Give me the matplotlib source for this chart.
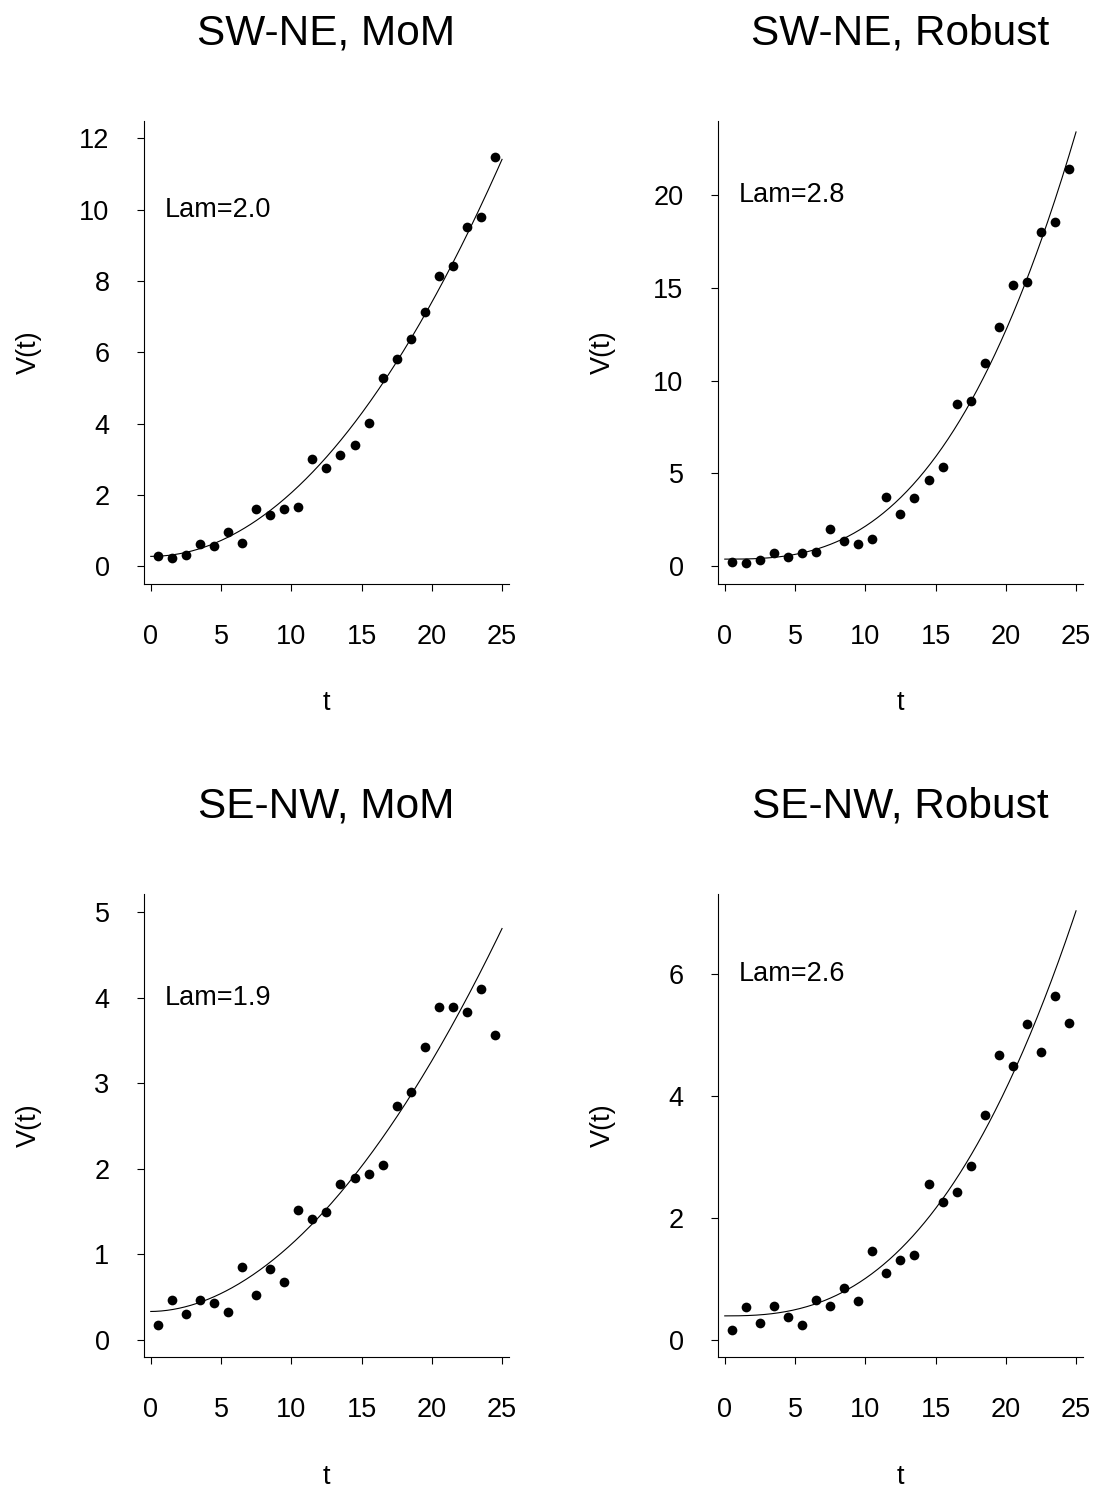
import numpy as np
import matplotlib
matplotlib.use('Agg')
import matplotlib.pyplot as plt

plt.rcParams['font.family'] = ['Liberation Sans', 'DejaVu Sans']

# time lags (bin centres)
t = [0.5 + i for i in range(25)]

# empirical variogram values
sw_ne_mom = [0.29, 0.23, 0.32, 0.63, 0.57, 0.96, 0.65, 1.61, 1.44, 1.61, 1.66, 3.01, 2.76,
             3.13, 3.40, 4.02, 5.28, 5.81, 6.37, 7.13, 8.14, 8.42, 9.51, 9.80, 11.46]
sw_ne_rob = [0.23, 0.18, 0.32, 0.72, 0.52, 0.72, 0.77, 2.03, 1.35, 1.20, 1.49, 3.73, 2.82,
             3.70, 4.65, 5.33, 8.74, 8.89, 10.95, 12.89, 15.15, 15.28, 18.01, 18.55, 21.40]
se_nw_mom = [0.17, 0.46, 0.30, 0.46, 0.43, 0.32, 0.85, 0.52, 0.83, 0.67, 1.52, 1.41, 1.49,
             1.82, 1.89, 1.94, 2.04, 2.73, 2.90, 3.42, 3.89, 3.89, 3.83, 4.10, 3.57]
se_nw_rob = [0.16, 0.53, 0.27, 0.56, 0.37, 0.24, 0.65, 0.55, 0.85, 0.64, 1.45, 1.10, 1.30,
             1.38, 2.56, 2.25, 2.42, 2.85, 3.69, 4.67, 4.49, 5.18, 4.72, 5.64, 5.19]

titles = ['SW-NE, MoM', 'SW-NE, Robust', 'SE-NW, MoM', 'SE-NW, Robust']
series = [sw_ne_mom, sw_ne_rob, se_nw_mom, se_nw_rob]

# fitted power model  V(t) = c0 + c1 * t^lam
lam = [2.0, 2.8, 1.9, 2.6]
c0 = [0.28, 0.39, 0.33, 0.39]
c1 = [0.0178, 0.00280, 0.00989, 0.00154]

y_max = [12, 20, 5, 6]
y_step = [2, 5, 1, 2]
y_top = [12.0, 23.04, 5.01, 7.02]
lam_y = [10, 20, 4, 6]

W, H = 1098, 1487
fig = plt.figure(figsize=(W / 100, H / 100), dpi=100)

# panel boxes in pixels: left, top
lefts = [144.3, 718.3]
tops = [121.0, 894.3]
pw, ph = 364.2, 462.5

tt = np.linspace(0, 25, 300)

for k in range(4):
    col, row = k % 2, k // 2
    ax = fig.add_axes([lefts[col] / W, 1 - (tops[row] + ph) / H, pw / W, ph / H])

    ax.plot(t, series[k], 'o', color='black', markersize=7, markeredgewidth=0)
    ax.plot(tt, c0[k] + c1[k] * tt ** lam[k], color='black', linewidth=0.8)

    ax.set_xlim(0.5 - 0.96, 24.5 + 0.96)
    ax.set_ylim(-0.04 * y_top[k], 1.04 * y_top[k])
    ax.set_xticks(range(0, 26, 5))
    ax.set_yticks(range(0, y_max[k] + 1, y_step[k]))

    for s in ['top', 'right']:
        ax.spines[s].set_visible(False)
    for s in ['left', 'bottom']:
        ax.spines[s].set_linewidth(0.8)

    ax.tick_params(axis='both', direction='out', length=5, width=0.8, labelsize=19.5)
    ax.tick_params(axis='x', pad=24)
    ax.tick_params(axis='y', pad=20)

    ax.set_title(titles[k], fontsize=30.5, pad=55)
    ax.set_xlabel('t', fontsize=19.5)
    ax.xaxis.set_label_coords(0.5, -0.259)
    ax.xaxis.label.set_va('center')
    ax.set_ylabel('V(t)', fontsize=19.5)
    ax.yaxis.set_label_coords(-0.318, 0.5)
    ax.yaxis.label.set_va('center')

    ax.text(1, lam_y[k], 'Lam=%.1f' % lam[k], fontsize=19.5, ha='left', va='center')

fig.savefig('out.png', dpi=100)
